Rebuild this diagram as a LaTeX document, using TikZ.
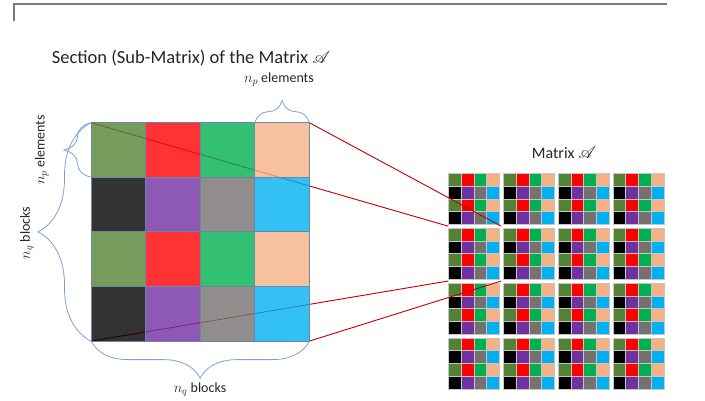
\documentclass[tikz,border=0pt]{standalone}
\usepackage{fontspec}
\usepackage{mathrsfs}
\setmainfont{Carlito}
\usetikzlibrary{decorations.pathreplacing,calc}
\pgfdeclarelayer{blocks}
\pgfdeclarelayer{lines}
\pgfsetlayers{blocks,lines,main}
\definecolor{sA1}{HTML}{548235}
\definecolor{sA2}{HTML}{FF0000}
\definecolor{sA3}{HTML}{00B050}
\definecolor{sA4}{HTML}{F4B183}
\definecolor{sB1}{HTML}{000000}
\definecolor{sB2}{HTML}{7030A0}
\definecolor{sB3}{HTML}{767171}
\definecolor{sB4}{HTML}{00B0F0}
\definecolor{cellline}{HTML}{6A86AD}
\definecolor{bracecol}{HTML}{7F9FD6}
\definecolor{linkred}{HTML}{C00000}
\definecolor{framegray}{HTML}{7A7A7A}
\definecolor{txt}{HTML}{262626}
\begin{document}
\begin{tikzpicture}[x=1pt,y=-1pt,
  bigcell/.style={draw=cellline, line width=0.8pt, fill opacity=0.8, minimum size=54.6pt, inner sep=0pt, outer sep=0pt, anchor=north west},
  blk/.style={minimum size=51pt, inner sep=0pt, outer sep=0pt, anchor=north west},
  link/.style={draw=linkred, line width=0.9pt},
  bracestyle/.style={draw=bracecol, line width=0.8pt, decorate, decoration={brace, amplitude=#1}},
  lbl/.style={text=txt, font=\fontsize{14}{16}\selectfont, inner sep=0pt},
]
\useasboundingbox (0,0) rectangle (705,401);

% frame
\draw[draw=framegray, line width=1.8pt] (14,20.7) -- (14,4) -- (666.7,4);

% big matrix (section)
\foreach \r/\t in {1/A,2/B,3/A,4/B}{
  \foreach \c in {1,...,4}{
    \node[bigcell, fill=s\t\c] (m\r\c) at ({91+(\c-1)*54.6},{122.7+(\r-1)*54.6}) {};
  }
}

% small blocks (matrix A)
\begin{pgfonlayer}{blocks}
\foreach \r in {1,...,4}{
  \foreach \c in {1,...,4}{
    \node[blk] (b\r\c) at ({448.3+(\c-1)*54.8},{173.3+(\r-1)*54.8}) {};
    \foreach \k/\t in {0/A,1/B,2/A,3/B}{
      \foreach \j in {1,...,4}{
        \filldraw[fill=s\t\j, draw=gray!45, line width=0.2pt] ($(b\r\c.north west)+({(\j-1)*12.75},{\k*12.75})$) rectangle ++(12.75,12.75);
      }
    }
  }
}
\end{pgfonlayer}

% link end points
\coordinate (eA) at ($(b11.south east)!0.5!(b22.north west)$);
\coordinate (eB) at ($(b11.south west)!0.5!(b21.north west)$);
\coordinate (eC) at ($(b21.south west)!0.5!(b31.north west)$);
\coordinate (eD) at ($(b21.south east)!0.5!(b32.north west)$);

\begin{pgfonlayer}{lines}
\draw[link] (m11.north west) -- (eB);
\draw[link] (m14.north east) -- (eA);
\draw[link] (m41.south west) -- (eC);
\draw[link] (m44.south east) -- (eD);
\end{pgfonlayer}

% braces
\draw[bracestyle=22pt] (m14.north west) -- (m14.north east);
\draw[bracestyle=37pt] (m44.south east) -- (m41.south west);
\draw[bracestyle=53pt] (m41.south west) -- (m11.north west);
\draw[bracestyle=27pt] (m11.south west) -- (m11.north west);

% labels
\node[lbl, font=\fontsize{18.5}{22}\selectfont] (title) at (191,58.3) {Section (Sub-Matrix) of the Matrix $\mathscr{A}$};
\node[lbl] (nptop) at (279,80) {$n_p$ elements};
\node[lbl, font=\fontsize{16}{19}\selectfont] (mat) at (564,152.7) {Matrix $\mathscr{A}$};
\node[lbl, rotate=90] (npleft) at (41.7,150) {$n_p$ elements};
\node[lbl, rotate=90] (nqleft) at (27,233) {$n_q$ blocks};
\node[lbl] (nqbot) at (200,390) {$n_q$ blocks};
\end{tikzpicture}
\end{document}
